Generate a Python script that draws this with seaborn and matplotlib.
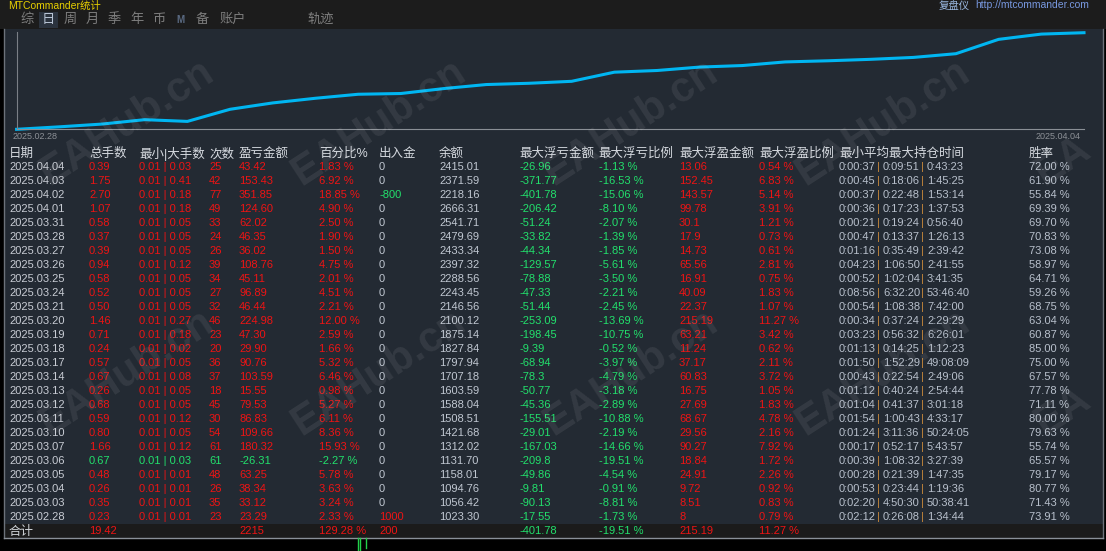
import numpy as np
import pandas as pd
import matplotlib
matplotlib.use("Agg")
import matplotlib.pyplot as plt
import seaborn as sns

# ---- datos (tabla, del dia mas reciente al mas antiguo) ----
fechas = ["2025.04.04", "2025.04.03", "2025.04.02", "2025.04.01", "2025.03.31", "2025.03.28",
          "2025.03.27", "2025.03.26", "2025.03.25", "2025.03.24", "2025.03.21", "2025.03.20",
          "2025.03.19", "2025.03.18", "2025.03.17", "2025.03.14", "2025.03.13", "2025.03.12",
          "2025.03.11", "2025.03.10", "2025.03.07", "2025.03.06", "2025.03.05", "2025.03.04",
          "2025.03.03", "2025.02.28"]
lotes = [0.39, 1.75, 2.70, 1.07, 0.58, 0.37, 0.39, 0.94, 0.58, 0.52, 0.50, 1.46, 0.71,
         0.24, 0.57, 0.67, 0.26, 0.68, 0.59, 0.80, 1.66, 0.67, 0.48, 0.26, 0.35, 0.23]
lote_min = [0.01] * 26
lote_max = [0.03, 0.41, 0.18, 0.18, 0.05, 0.05, 0.05, 0.12, 0.05, 0.05, 0.05, 0.27, 0.18,
            0.02, 0.05, 0.08, 0.05, 0.05, 0.12, 0.05, 0.12, 0.03, 0.01, 0.01, 0.01, 0.01]
operaciones = [25, 42, 77, 49, 33, 24, 26, 39, 34, 27, 32, 46, 23, 20, 36, 37, 18, 45, 30,
               54, 61, 61, 48, 26, 35, 23]
beneficio = [43.42, 153.43, 351.85, 124.60, 62.02, 46.35, 36.02, 108.76, 45.11, 96.89, 46.44,
             224.98, 47.30, 29.90, 90.76, 103.59, 15.55, 79.53, 86.83, 109.66, 180.32, -26.31,
             63.25, 38.34, 33.12, 23.29]
porcentaje = [1.83, 6.92, 18.85, 4.90, 2.50, 1.90, 1.50, 4.75, 2.01, 4.51, 2.21, 12.00, 2.59,
              1.66, 5.32, 6.46, 0.98, 5.27, 6.11, 8.36, 15.93, -2.27, 5.78, 3.63, 3.24, 2.33]
deposito = [0, 0, -800, 0, 0, 0, 0, 0, 0, 0, 0, 0, 0, 0, 0, 0, 0, 0, 0, 0, 0, 0, 0, 0, 0, 1000]
saldo = [2415.01, 2371.59, 2218.16, 2666.31, 2541.71, 2479.69, 2433.34, 2397.32, 2288.56,
         2243.45, 2146.56, 2100.12, 1875.14, 1827.84, 1797.94, 1707.18, 1603.59, 1588.04,
         1508.51, 1421.68, 1312.02, 1131.70, 1158.01, 1094.76, 1056.42, 1023.30]
flot_perdida = ["-26.96", "-371.77", "-401.78", "-206.42", "-51.24", "-33.82", "-44.34",
                "-129.57", "-78.88", "-47.33", "-51.44", "-253.09", "-198.45", "-9.39",
                "-68.94", "-78.3", "-50.77", "-45.36", "-155.51", "-29.01", "-167.03",
                "-209.8", "-49.86", "-9.81", "-90.13", "-17.55"]
flot_perdida_pct = [-1.13, -16.53, -15.06, -8.10, -2.07, -1.39, -1.85, -5.61, -3.50, -2.21,
                    -2.45, -13.69, -10.75, -0.52, -3.97, -4.79, -3.18, -2.89, -10.88, -2.19,
                    -14.66, -19.51, -4.54, -0.91, -8.81, -1.73]
flot_ganancia = ["13.06", "152.45", "143.57", "99.78", "30.1", "17.9", "14.73", "65.56",
                 "16.91", "40.09", "22.37", "215.19", "63.21", "11.24", "37.17", "60.83",
                 "16.75", "27.69", "68.67", "29.56", "90.27", "18.84", "24.91", "9.72",
                 "8.51", "8"]
flot_ganancia_pct = [0.54, 6.83, 5.14, 3.91, 1.21, 0.73, 0.61, 2.81, 0.75, 1.83, 1.07, 11.27,
                     3.42, 0.62, 2.11, 3.72, 1.05, 1.83, 4.78, 2.16, 7.92, 1.72, 2.26, 0.92,
                     0.83, 0.79]
t_min = ["0:00:37", "0:00:45", "0:00:37", "0:00:36", "0:00:21", "0:00:47", "0:01:16", "0:04:23",
         "0:00:52", "0:08:56", "0:00:54", "0:00:34", "0:03:23", "0:01:13", "0:01:50", "0:00:43",
         "0:01:12", "0:01:04", "0:01:54", "0:01:24", "0:00:17", "0:00:39", "0:00:28", "0:00:53",
         "0:02:20", "0:02:12"]
t_medio = ["0:09:51", "0:18:06", "0:22:48", "0:17:23", "0:19:24", "0:13:37", "0:35:49", "1:06:50",
           "1:02:04", "6:32:20", "1:08:38", "0:37:24", "0:56:32", "0:14:25", "1:52:29", "0:22:54",
           "0:40:24", "0:41:37", "1:00:43", "3:11:36", "0:52:17", "1:08:32", "0:21:39", "0:23:44",
           "4:50:30", "0:26:08"]
t_max = ["0:43:23", "1:45:25", "1:53:14", "1:37:53", "0:56:40", "1:26:13", "2:39:42", "2:41:55",
         "3:41:35", "53:46:40", "7:42:00", "2:29:29", "6:26:01", "1:12:23", "49:08:09", "2:49:06",
         "2:54:44", "3:01:18", "4:33:17", "50:24:05", "5:43:57", "3:27:39", "1:47:35", "1:19:36",
         "50:38:41", "1:34:44"]
tasa_acierto = [72.00, 61.90, 55.84, 69.39, 69.70, 70.83, 73.08, 58.97, 64.71, 59.26, 68.75,
                63.04, 60.87, 85.00, 75.00, 67.57, 77.78, 71.11, 80.00, 79.63, 55.74, 65.57,
                79.17, 80.77, 71.43, 73.91]

cabeceras = ["日期", "总手数", "最小|大手数", "次数", "盈亏金额", "百分比%", "出入金", "余额",
             "最大浮亏金额", "最大浮亏比例", "最大浮盈金额", "最大浮盈比例", "最小平均最大持仓时间", "胜率"]
totales = ["合计", "19.42", "", "", "2215", "129.28 %", "200", "",
           "-401.78", "-19.51 %", "215.19", "11.27 %", "", ""]
pestanas = ["综", "日", "周", "月", "季", "年", "币", "M", "备", "账户", "轨迹"]

# ---- estilo ----
plt.rcParams['font.family'] = ['Liberation Sans', 'Noto Sans CJK SC', 'DejaVu Sans']
ROJO = "#ee1414"
VERDE = "#22e06c"
GRIS = "#c0c7d1"
PANEL = "#232a33"
W, H = 1106, 551

fig = plt.figure(figsize=(W / 100, H / 100), dpi=100, facecolor="black")
bg = fig.add_axes([0, 0, 1, 1])
bg.set_xlim(0, W)
bg.set_ylim(H, 0)
bg.axis("off")

# fondos
bg.add_patch(plt.Rectangle((0, 0), W, 29, color="#1c1c1c", lw=0))
bg.add_patch(plt.Rectangle((3.5, 29), 1099, 495, color=PANEL, lw=0))
bg.add_patch(plt.Rectangle((3.5, 524), 1099, 13.5, color="#1b1b1b", lw=0))
bg.plot([3.5, 3.5], [29, 538], color="#6c727a", lw=1)
bg.plot([1102.5, 1102.5], [29, 538], color="#6c727a", lw=1)
bg.plot([3.5, 1102.5], [537.8, 537.8], color="#8a9098", lw=1)
bg.plot([357.5, 357.5], [538, 551], color="#22d04a", lw=1)
bg.plot([359.5, 359.5], [538, 551], color="#22d04a", lw=1)
bg.plot([365.5, 365.5], [538, 548], color="#22d04a", lw=1)

# barra superior
bg.text(8, 0.5, "MTCommander统计", color="#e8d000", fontsize=7.5, va="top")
bg.text(939, 0.5, "复盘仪", color="#9ab8e0", fontsize=7.5, va="top")
bg.text(975, 0.5, "http://mtcommander.com", color="#7898e0", fontsize=7.5, va="top")
bg.add_patch(plt.Rectangle((39, 12), 19, 16, color="#2b333e", lw=0))
xs_pest = [20, 42, 64, 86, 108, 130, 152, 176, 196, 220, 307]
for x, t in zip(xs_pest, pestanas):
    if t == "M":
        bg.text(x, 20, t, color="#5a6a82", fontsize=7, fontweight="bold", va="center")
    else:
        bg.text(x, 20, t, color="#b8c4d4" if t == "日" else "#7e7e7e", fontsize=9.5, va="center")

# ---- curva: suma acumulada del porcentaje diario ----
curva = pd.DataFrame({"dia": np.arange(len(fechas)),
                      "acumulado": np.cumsum(porcentaje[::-1])})
x0, x1, y_top, y_bot = 16.6, 1084, 31.7, 129.3
ax = fig.add_axes([x0 / W, 1 - y_bot / H, (x1 - x0) / W, (y_bot - y_top) / H])
ax.set_facecolor("none")
sns.lineplot(data=curva, x="dia", y="acumulado", ax=ax, color="#00b6f2", linewidth=2.2)
for l in ax.lines:
    l.set_clip_on(False)
lo, hi = curva["acumulado"].iloc[0], curva["acumulado"].iloc[-1]
esc = (hi - lo) / (y_bot - 32.7)
ax.set_xlim(0, len(fechas) - 1)
ax.set_ylim(lo, hi + esc * 1.0)
ax.set_xticks([])
ax.set_yticks([])
ax.set_xlabel("")
ax.set_ylabel("")
for s in ["top", "right"]:
    ax.spines[s].set_visible(False)
ax.spines["left"].set_color("#7a7f86")
ax.spines["bottom"].set_color("#8a8f96")
bg.text(13, 136.7, fechas[-1], color="#8c9096", fontsize=6.5, va="center")
bg.text(1081, 136.7, fechas[0], color="#8c9096", fontsize=6.5, va="center", ha="right")

# ---- tabla ----
cols_x = [9, 89, 139, 209, 239, 319, 379, 439, 519, 598.6, 679, 759, 839, 1029]
for x, t in zip(cols_x, cabeceras):
    bg.text(x, 154, t, color="#d6dae0", fontsize=9, va="center")

FS = 8
for i in range(len(fechas)):
    y = 166.7 + 14 * i
    c = ROJO if beneficio[i] > 0 else VERDE
    bg.text(cols_x[0], y, fechas[i], color="#c8ccd4", fontsize=FS, va="center")
    bg.text(cols_x[1], y, f"{lotes[i]:.2f}", color=c, fontsize=FS, va="center")
    bg.text(cols_x[2], y, f"{lote_min[i]:.2f} | {lote_max[i]:.2f}", color=c, fontsize=FS, va="center")
    bg.text(cols_x[3], y, f"{operaciones[i]}", color=c, fontsize=FS, va="center")
    bg.text(cols_x[4], y, f"{beneficio[i]:.2f}", color=c, fontsize=FS, va="center")
    bg.text(cols_x[5], y, f"{porcentaje[i]:.2f} %", color=c, fontsize=FS, va="center")
    d = deposito[i]
    cd = GRIS if d == 0 else (ROJO if d > 0 else VERDE)
    bg.text(cols_x[6], y, f"{d}", color=cd, fontsize=FS, va="center")
    bg.text(cols_x[7], y, f"{saldo[i]:.2f}", color=GRIS, fontsize=FS, va="center")
    bg.text(cols_x[8], y, flot_perdida[i], color=VERDE, fontsize=FS, va="center")
    bg.text(cols_x[9], y, f"{flot_perdida_pct[i]:.2f} %", color=VERDE, fontsize=FS, va="center")
    bg.text(cols_x[10], y, flot_ganancia[i], color=ROJO, fontsize=FS, va="center")
    bg.text(cols_x[11], y, f"{flot_ganancia_pct[i]:.2f} %", color=ROJO, fontsize=FS, va="center")
    bg.text(839, y, t_min[i], color="#b8c0cc", fontsize=FS, va="center")
    bg.text(877.5, y, "|", color="#c8883a", fontsize=FS, va="center")
    bg.text(883, y, t_medio[i], color="#b8c0cc", fontsize=FS, va="center")
    bg.text(921.5, y, "|", color="#c8883a", fontsize=FS, va="center")
    bg.text(927, y, t_max[i], color="#b8c0cc", fontsize=FS, va="center")
    bg.text(cols_x[13], y, f"{tasa_acierto[i]:.2f} %", color="#b8c0cc", fontsize=FS, va="center")

# fila de totales
for j, (x, t) in enumerate(zip(cols_x, totales)):
    if not t:
        continue
    if j == 0:
        bg.text(x, 531.5, t, color="#d0d4d8", fontsize=9, va="center")
    else:
        bg.text(x, 531.5, t, color=VERDE if t.startswith("-") else ROJO, fontsize=FS, va="center")

# marcas de agua
for yw in [123, 373]:
    for xw in [127, 379, 631, 883]:
        fig.text(xw / W, 1 - yw / H, "EAHub.cn", color="white", alpha=0.08, fontsize=30,
                 fontweight="bold", rotation=33, ha="center", va="center", zorder=10)
    # la del borde derecho solo asoma el principio
    fig.text(1038 / W, 1 - (yw + 54) / H, "EA", color="white", alpha=0.08, fontsize=30,
             fontweight="bold", rotation=33, rotation_mode="anchor", ha="left", va="center",
             zorder=10)

plt.savefig("out.png", dpi=100, facecolor="black")
